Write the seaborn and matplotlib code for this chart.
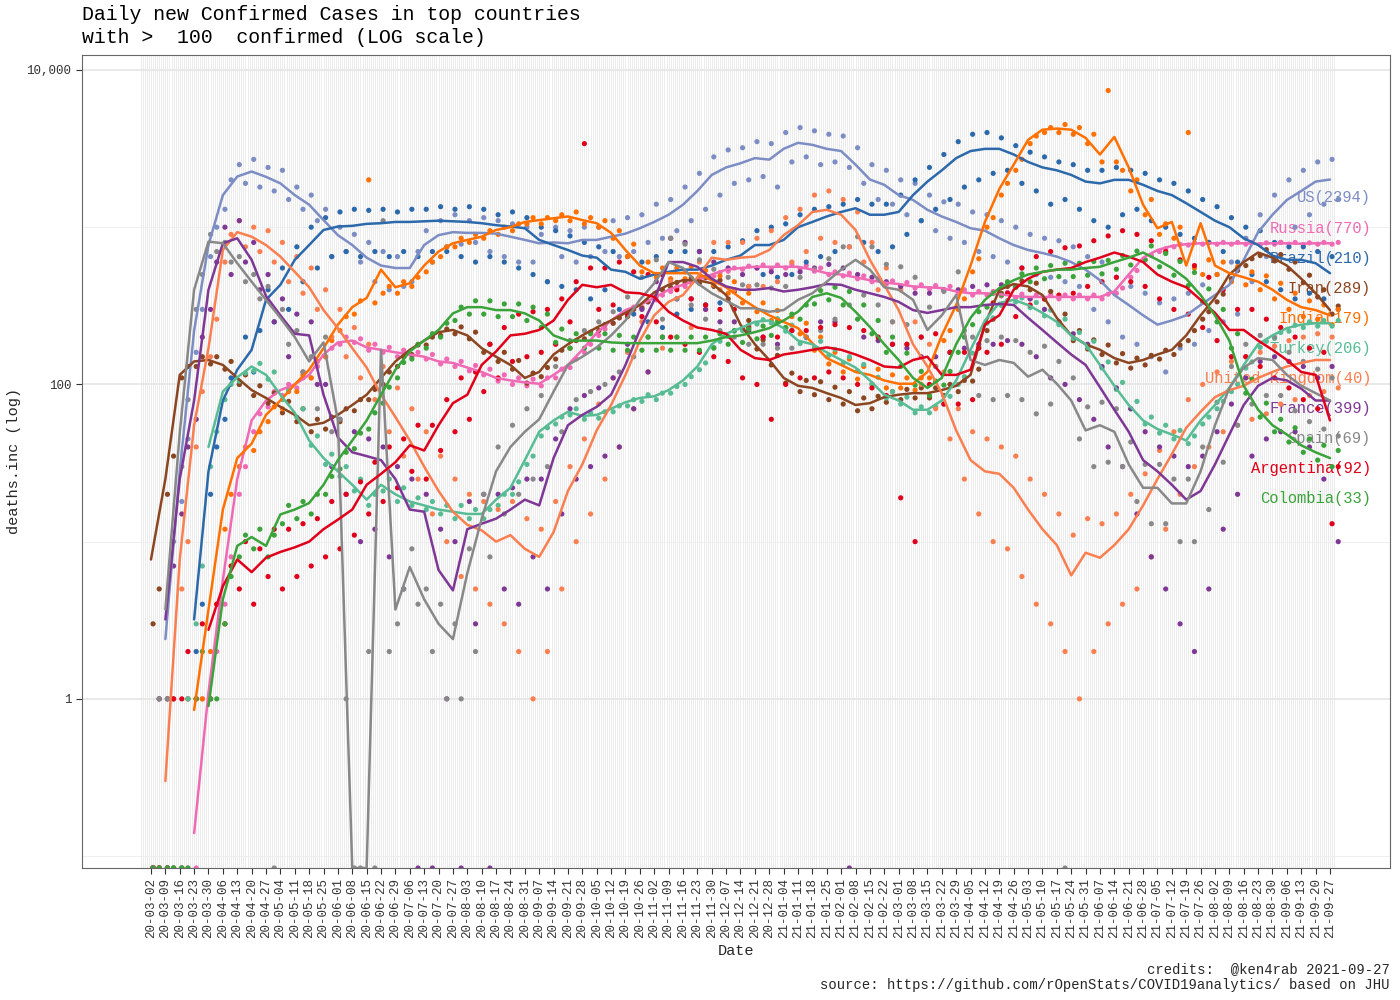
import numpy as np
import pandas as pd
import seaborn as sns
import matplotlib.pyplot as plt
import matplotlib.dates as mdates
import matplotlib.transforms as mtransforms
from matplotlib.ticker import FixedLocator, NullLocator

sns.set_theme(style='white')
plt.rcParams['font.family'] = ['Liberation Mono', 'DejaVu Sans Mono']

N = None

countries = ['US', 'Russia', 'Brazil', 'Iran', 'India', 'Turkey',
             'United Kingdom', 'France', 'Spain', 'Argentina', 'Colombia']
latest = [2394, 770, 210, 289, 179, 206, 40, 399, 69, 92, 33]
colors = ['#7C8DC4', '#F069B4', '#2C69AB', '#8B4520', '#FF7000', '#57BC94',
          '#FA7F50', '#7E3794', '#888888', '#E0001A', '#3AA33A']

# weekly samples of the 7-day mean (one per Monday, 20-03-02 .. 21-09-27)
weeks = pd.date_range('2020-03-02', '2021-09-27', freq='7D')
# two daily reports per week, 1 and 4 days after the Monday
pt_offsets = [1, 4]

us_line = [N, 2.4, 28, 220, 770, 1600, 2100, 2260, 2090, 1900,
           1600, 1390, 1110, 890, 770, 640, 570, 550, 550, 770,
           890, 930, 920, 920, 910, 870, 830, 790, 800, 790,
           830, 830, 870, 910, 985, 1080, 1200, 1390, 1700, 2150,
           2400, 2550, 2750, 2690, 3150, 3440, 3340, 3150, 3050, 2500,
           2010, 1860, 1600, 1490, 1290, 1170, 1080, 985, 950, 850,
           770, 716, 685, 650, 600, 537, 460, 370, 320, 275,
           240, 255, 275, 320, 370, 430, 620, 930, 1200, 1490,
           1700, 1950, 2010]
us_pts = [0, 1, 1, 1, 18, 45, 160, 300, 650, 1000, 1300, 2000, 2500, 1900, 2700, 1800, 2400, 1700, 2300, 1500,
          1800, 1300, 1600, 1100, 1300, 650, 1000, 700, 900, 600, 800, 450, 700, 400, 650, 420, 450, 700, 950, 600,
          1100, 750, 1200, 780, 1100, 800, 1150, 700, 1100, 650, 1050, 600, 1000, 600, 900, 450, 1000, 650, 950, 600,
          1000, 650, 1000, 700, 1100, 650, 1150, 700, 1200, 800, 1400, 850, 1500, 950, 1800, 1100, 2200, 1300, 2800, 1600,
          3100, 1900, 3200, 2000, 3500, 2100, 3400, 1800, 4000, 2600, 4300, 2800, 4100, 2500, 3900, 2600, 3800, 2400, 3200, 1900,
          2500, 1500, 2300, 1400, 2000, 1200, 1900, 1100, 1600, 950, 1450, 850, 1400, 800, 1250, 700, 1200, 650, 1100, 600,
          1000, 550, 900, 500, 850, 480, 820, 450, 750, 420, 650, 300, 600, 250, 480, 200, 420, 180, 380, 150,
          330, 120, 350, 170, 380, 180, 430, 220, 500, 250, 600, 280, 850, 450, 1200, 650, 1600, 800, 2000, 1000,
          2300, 1200, 2600, 1400, 2700, 1500]

ru_line = [N, N, N, 0.14, 1.1, 5.7, 25, 59, 79, 92,
           100, 115, 155, 185, 190, 172, 166, 160, 155, 150,
           140, 137, 128, 120, 110, 106, 103, 101, 115, 133,
           166, 213, 255, 297, 320, 355, 400, 430, 460, 500,
           537, 550, 560, 560, 560, 560, 537, 510, 500, 480,
           460, 445, 435, 420, 415, 410, 390, 380, 380, 375,
           365, 360, 360, 360, 360, 360, 360, 390, 500, 640,
           716, 760, 780, 790, 790, 790, 790, 785, 790, 790,
           785, 790, 790]
ru_pts = [0, 0, 0, 0, 0, 0, 0, 1, 1, 2, 4, 8, 20, 30, 50, 65, 72, 90, 85, 100,
          95, 110, 110, 130, 150, 170, 180, 200, 185, 195, 165, 180, 160, 172, 150, 165, 150, 160, 145, 155,
          135, 145, 130, 140, 122, 132, 115, 125, 105, 115, 100, 110, 98, 108, 98, 110, 110, 125, 128, 145,
          160, 180, 205, 225, 245, 265, 285, 310, 310, 335, 345, 370, 390, 415, 420, 445, 450, 475, 490, 515,
          525, 550, 540, 565, 550, 575, 545, 575, 550, 580, 545, 570, 525, 550, 500, 520, 490, 510, 470, 490,
          450, 470, 435, 455, 425, 445, 410, 430, 405, 425, 400, 420, 380, 400, 370, 390, 370, 390, 365, 385,
          355, 375, 350, 370, 350, 370, 350, 370, 350, 370, 350, 370, 350, 375, 380, 410, 480, 530, 620, 660,
          700, 730, 750, 775, 770, 795, 780, 800, 780, 800, 780, 800, 780, 800, 775, 795, 780, 800, 780, 800,
          775, 795, 780, 800, 780, 800]

br_line = [N, N, N, 3.2, 28, 79, 124, 166, 345, 430,
           620, 770, 960, 1010, 1020, 1050, 1060, 1080, 1080, 1090,
           1100, 1090, 1080, 1060, 1030, 1010, 985, 830, 770, 716,
           660, 640, 537, 520, 470, 500, 520, 537, 537, 570,
           620, 660, 770, 770, 830, 1000, 1080, 1170, 1250, 1320,
           1200, 1200, 1250, 1600, 1950, 2300, 2750, 3050, 3150, 3150,
           2900, 2600, 2400, 2300, 2150, 1950, 1900, 2000, 2000, 1860,
           1700, 1600, 1420, 1250, 1100, 1000, 850, 770, 660, 620,
           620, 590, 510]
br_pts = [0, 0, 0, 0, 0, 1, 2, 4, 20, 40, 60, 110, 100, 200, 120, 220, 400, 250, 550, 300,
          750, 450, 1000, 550, 1150, 650, 1250, 700, 1300, 650, 1280, 700, 1300, 650, 1250, 700, 1300, 650, 1300, 700,
          1350, 700, 1300, 650, 1350, 600, 1300, 650, 1200, 600, 1250, 550, 1150, 500, 1000, 450, 950, 420, 880, 400,
          800, 350, 750, 400, 700, 300, 650, 280, 600, 250, 650, 230, 700, 280, 700, 300, 700, 320, 700, 330,
          750, 400, 820, 420, 950, 500, 1000, 480, 1050, 500, 1200, 600, 1300, 650, 1350, 700, 1400, 750, 1500, 800,
          1400, 700, 1400, 750, 1600, 900, 2000, 1100, 2400, 1300, 2900, 1500, 3500, 1800, 3900, 2000, 4000, 2200, 3700, 2300,
          3300, 1900, 3000, 1700, 2800, 1400, 2600, 1500, 2500, 1300, 2300, 1100, 2300, 1000, 2400, 1200, 2300, 1300, 2200, 1100,
          2000, 1000, 1900, 900, 1700, 850, 1500, 800, 1350, 700, 1150, 600, 1000, 500, 950, 450, 800, 400, 750, 350,
          750, 380, 700, 350, 650, 300]

ir_line = [7.7, 25, 115, 140, 143, 133, 110, 92, 82, 72,
           64, 55, 57, 64, 74, 86, 110, 140, 166, 190,
           215, 222, 205, 170, 150, 133, 110, 120, 155, 180,
           205, 230, 255, 285, 320, 385, 430, 460, 460, 440,
           370, 240, 180, 143, 110, 98, 95, 88, 82, 74,
           76, 83, 86, 88, 88, 92, 98, 115, 240, 400,
           435, 420, 370, 265, 205, 180, 166, 147, 137, 143,
           155, 166, 205, 275, 355, 500, 600, 690, 640, 570,
           470, 380, 297]
ir_pts = [3, 5, 20, 35, 110, 130, 130, 150, 135, 150, 125, 140, 100, 115, 85, 98, 76, 88, 66, 78,
          58, 70, 50, 60, 52, 62, 58, 70, 68, 80, 80, 93, 100, 120, 130, 150, 155, 178, 178, 200,
          205, 225, 210, 232, 195, 215, 160, 180, 140, 160, 125, 142, 102, 118, 112, 128, 145, 165, 170, 190,
          195, 215, 220, 240, 245, 265, 270, 300, 305, 335, 365, 400, 415, 445, 445, 475, 440, 480, 420, 460,
          350, 390, 225, 255, 168, 192, 133, 153, 102, 118, 90, 106, 86, 104, 80, 96, 75, 90, 68, 82,
          70, 84, 77, 90, 80, 93, 82, 95, 82, 95, 85, 100, 90, 106, 105, 125, 220, 260, 380, 420,
          415, 455, 400, 440, 350, 390, 250, 280, 190, 220, 168, 192, 155, 178, 137, 157, 127, 147, 133, 153,
          145, 165, 155, 178, 190, 220, 260, 290, 335, 375, 470, 530, 570, 630, 660, 720, 610, 670, 540, 600,
          445, 495, 360, 400, 280, 315]

in_line = [N, N, N, 0.85, 3.7, 16, 34, 42, 64, 79,
           100, 124, 170, 240, 310, 355, 537, 415, 440, 570,
           700, 790, 830, 870, 960, 1000, 1080, 1110, 1140, 1170,
           1110, 1060, 920, 716, 570, 510, 510, 510, 510, 460,
           415, 355, 310, 275, 250, 228, 183, 147, 133, 120,
           115, 106, 101, 101, 120, 205, 320, 570, 1080, 1750,
           2500, 3590, 4170, 4240, 4170, 3700, 2900, 3750, 2400, 1390,
           985, 1080, 570, 1060, 570, 510, 480, 450, 400, 345,
           310, 297, 275]
in_pts = [0, 0, 0, 0, 0, 1, 1, 1, 2, 4, 12, 20, 30, 40, 38, 50, 58, 72, 70, 90,
          90, 115, 110, 140, 150, 190, 220, 270, 280, 340, 2000, 330, 380, 420, 380, 450, 420, 480, 520, 600,
          650, 750, 750, 850, 800, 900, 850, 950, 900, 1000, 950, 1050, 1050, 1150, 1050, 1150, 1100, 1200, 1100, 1250,
          1050, 1150, 1000, 1100, 850, 950, 650, 780, 520, 600, 480, 550, 470, 550, 470, 560, 480, 530, 430, 490,
          380, 450, 330, 380, 290, 330, 255, 295, 230, 270, 210, 245, 165, 200, 135, 160, 120, 145, 108, 130,
          100, 125, 95, 115, 95, 110, 92, 110, 110, 130, 190, 220, 300, 350, 520, 630, 1000, 1150, 1600, 1900,
          2300, 2700, 3400, 3800, 4000, 4300, 4000, 4500, 3900, 4300, 3400, 3900, 2600, 7400, 2600, 2300, 1700, 2000, 1200, 1500,
          900, 1050, 850, 1000, 4000, 550, 500, 620, 500, 600, 450, 560, 430, 520, 400, 490, 350, 440, 300, 380,
          270, 340, 260, 320, 240, 300]

tr_line = [N, N, N, N, 40, 90, 111, 130, 115, 86,
           66, 44, 34, 28, 23, 18.5, 23, 20, 18, 17,
           16, 15.5, 15, 15, 18.5, 22, 33, 50, 59, 67,
           63, 64, 70, 77, 82, 84, 92, 106, 130, 180,
           210, 228, 250, 255, 228, 190, 180, 160, 143, 128,
           106, 86, 79, 69, 69, 79, 106, 166, 255, 330,
           345, 320, 285, 250, 205, 180, 133, 98, 74, 59,
           52, 48, 44, 59, 74, 95, 133, 180, 205, 228,
           240, 245, 245]
tr_pts = [0, 0, 0, 0, 0, 1, 3, 7, 30, 50, 80, 100, 105, 118, 122, 136, 108, 120, 80, 92,
          62, 70, 41, 47, 31, 36, 26, 30, 21, 25, 17, 20, 21, 25, 18, 22, 17, 19, 16, 18,
          15, 17, 14, 17, 14, 16, 14, 16, 17, 20, 20, 24, 31, 35, 47, 53, 56, 62, 64, 70,
          60, 66, 61, 67, 67, 73, 73, 80, 78, 86, 80, 88, 88, 97, 100, 112, 124, 137, 172, 188,
          202, 218, 220, 236, 242, 258, 246, 262, 218, 238, 182, 198, 172, 188, 153, 167, 137, 150, 122, 134,
          101, 111, 82, 90, 75, 83, 66, 72, 66, 72, 75, 84, 100, 112, 158, 174, 245, 265, 318, 342,
          335, 355, 308, 332, 273, 297, 240, 260, 196, 214, 172, 188, 127, 139, 93, 103, 70, 78, 56, 62,
          49, 55, 45, 51, 42, 47, 56, 62, 70, 78, 90, 100, 127, 139, 172, 188, 196, 214, 218, 238,
          230, 250, 235, 255, 235, 255]

uk_line = [N, 0.3, 7.7, 55, 170, 716, 930, 870, 770, 650,
           520, 415, 297, 228, 170, 128, 86, 62, 44, 30,
           21, 15.5, 12.8, 11.8, 10, 11, 9, 8, 11.5, 21,
           31, 51, 74, 115, 190, 275, 335, 370, 480, 640,
           620, 640, 650, 716, 890, 1030, 1250, 1290, 1200, 960,
           620, 430, 297, 180, 130, 88, 51, 33, 28, 27,
           22, 16, 12, 9.5, 6.1, 8.5, 7.9, 9.5, 12, 17,
           25, 36, 53, 67, 83, 92, 98, 110, 120, 130,
           137, 143, 143]
uk_pts = [0, 1, 1, 1, 5, 10, 40, 90, 150, 260, 600, 900, 1100, 750, 1000, 700, 950, 600, 800, 450,
          650, 380, 550, 300, 400, 200, 300, 150, 230, 110, 180, 80, 130, 50, 95, 35, 70, 25, 50, 15,
          35, 10, 25, 6, 20, 5, 18, 4, 16, 3, 18, 2, 14, 1, 12, 2, 18, 5, 30, 10,
          45, 15, 75, 25, 110, 40, 160, 70, 250, 120, 380, 170, 450, 200, 520, 230, 600, 300, 800, 400,
          800, 400, 800, 420, 850, 420, 950, 450, 1150, 600, 1300, 700, 1600, 850, 1700, 800, 1500, 750, 1250, 600,
          800, 400, 550, 250, 400, 180, 250, 100, 180, 70, 120, 45, 70, 25, 50, 15, 45, 10, 40, 9,
          35, 6, 25, 4, 20, 3, 15, 2, 11, 1, 14, 2, 13, 3, 15, 4, 20, 5, 27, 8,
          38, 12, 50, 20, 80, 30, 100, 40, 120, 50, 140, 55, 150, 60, 160, 65, 175, 75, 190, 80,
          200, 85, 210, 90, 200, 95]

fr_line = [N, 3.2, 25, 79, 400, 790, 850, 620, 365, 275,
           210, 205, 86, 46, 37, 35, 33, 25, 16, 15.5,
           6.6, 4.9, 12, 13, 14, 16, 18.5, 17, 34, 55,
           64, 72, 86, 133, 222, 345, 600, 600, 560, 470,
           420, 400, 400, 410, 390, 400, 415, 435, 430, 400,
           380, 360, 335, 297, 285, 297, 310, 310, 320, 325,
           320, 265, 222, 185, 155, 133, 96, 69, 50, 33,
           28, 23, 18.5, 21, 31, 48, 74, 98, 110, 106,
           94, 79, 79]
fr_pts = [0, 1, 1, 7, 15, 40, 60, 200, 300, 600, 1000, 500, 1100, 600, 800, 400, 500, 250, 350, 150,
          280, 120, 250, 100, 100, 30, 60, 20, 50, 10, 45, 12, 40, 8, 30, 5, 25, 0, 20, 0,
          12, 1, 10, 0, 18, 3, 20, 0, 20, 5, 22, 4, 25, 8, 25, 5, 45, 15, 70, 25,
          85, 30, 95, 35, 110, 40, 180, 70, 300, 120, 450, 200, 850, 350, 800, 350, 700, 300, 600, 250,
          550, 250, 500, 220, 550, 200, 520, 180, 500, 220, 520, 200, 550, 250, 580, 250, 550, 0, 500, 200,
          480, 190, 450, 180, 420, 170, 380, 150, 380, 150, 400, 160, 400, 170, 420, 180, 430, 180, 430, 190,
          420, 180, 350, 150, 300, 110, 250, 100, 210, 80, 180, 60, 130, 40, 95, 30, 70, 15, 50, 8,
          40, 5, 35, 3, 30, 2, 35, 5, 50, 12, 75, 20, 110, 35, 140, 45, 150, 50, 140, 50,
          130, 40, 110, 25, 130, 10]

es_line = [N, 3.7, 49, 400, 810, 790, 590, 450, 345, 265,
           200, 140, 185, 59, 0, 0, 166, 3.7, 6.9, 4.3,
           3, 2.4, 6.3, 14, 28, 40, 50, 60, 90, 133,
           150, 172, 205, 255, 345, 440, 600, 550, 440, 380,
           340, 305, 305, 290, 297, 345, 380, 450, 537, 620,
           537, 415, 400, 345, 222, 275, 370, 143, 133, 143,
           137, 112, 124, 101, 79, 51, 55, 50, 31, 22,
           22, 17.5, 17.5, 28, 55, 95, 128, 147, 143, 115,
           98, 88, 79]
es_pts = [0, 1, 1, 10, 30, 80, 300, 500, 900, 700, 800, 600, 650, 450, 500, 350, 420, 0, 300, 180,
          220, 120, 150, 70, 200, 50, 60, 1, 0, 0, 2, 0, 1100, 2, 3, 5, 9, 4, 5, 2,
          4, 1, 3, 1, 9, 2, 20, 8, 40, 15, 55, 20, 70, 25, 85, 30, 130, 50, 190, 80,
          220, 90, 250, 100, 290, 120, 360, 150, 480, 200, 620, 260, 850, 350, 780, 320, 620, 260, 540, 220,
          480, 200, 430, 180, 430, 180, 410, 170, 420, 170, 480, 200, 540, 220, 630, 260, 750, 320, 870, 370,
          750, 320, 580, 250, 560, 240, 480, 200, 310, 130, 390, 160, 520, 220, 200, 85, 190, 80, 200, 85,
          190, 80, 160, 65, 175, 75, 140, 0, 110, 45, 72, 30, 77, 32, 70, 30, 43, 18, 31, 13,
          31, 13, 25, 10, 25, 10, 40, 16, 77, 32, 130, 55, 180, 75, 205, 85, 200, 85, 160, 68,
          140, 58, 125, 52, 110, 47]

ar_line = [N, N, N, N, 2.75, 5.2, 7.7, 6.4, 7.9, 8.6,
           9.2, 10, 12, 13.8, 16, 23, 27, 32, 41, 38,
           55, 76, 86, 133, 162, 205, 210, 222, 255, 345,
           430, 415, 430, 385, 380, 360, 290, 255, 230, 222,
           210, 166, 147, 143, 155, 160, 166, 172, 166, 155,
           143, 130, 128, 143, 150, 115, 115, 124, 240, 275,
           400, 470, 520, 537, 550, 600, 640, 690, 650, 600,
           500, 450, 415, 345, 285, 222, 222, 190, 166, 143,
           120, 115, 59]
ar_pts = [0, 0, 0, 1, 1, 2, 1, 3, 1, 4, 3, 7, 5, 10, 4, 9, 6, 12, 5, 12,
          6, 13, 7, 14, 8, 18, 9, 20, 11, 24, 15, 32, 18, 40, 22, 45, 28, 55, 25, 55,
          38, 80, 50, 110, 60, 120, 90, 180, 110, 230, 140, 280, 150, 290, 160, 300, 180, 350, 250, 450,
          3400, 550, 300, 550, 320, 600, 280, 520, 270, 500, 250, 500, 200, 400, 180, 350, 160, 320, 150, 300,
          140, 300, 110, 230, 100, 200, 60, 200, 100, 220, 110, 220, 110, 230, 120, 240, 110, 230, 100, 220,
          95, 200, 85, 180, 19, 180, 10, 200, 100, 210, 75, 160, 75, 160, 80, 170, 160, 330, 180, 380,
          270, 550, 320, 650, 350, 700, 370, 740, 380, 760, 420, 820, 450, 880, 480, 950, 450, 900, 420, 820,
          350, 700, 300, 620, 280, 570, 230, 480, 190, 400, 150, 300, 150, 300, 130, 260, 110, 230, 95, 200,
          80, 170, 70, 160, 13, 30]

co_line = [N, N, N, N, 0.9, 4.3, 9.4, 10.7, 9.4, 14.9,
           16, 17.6, 23, 33, 44, 59, 86, 124, 162, 190,
           222, 283, 310, 310, 297, 297, 283, 255, 205, 190,
           190, 190, 185, 183, 183, 183, 183, 183, 183, 190,
           200, 205, 215, 228, 255, 290, 360, 380, 355, 290,
           232, 180, 143, 110, 95, 110, 180, 265, 345, 410,
           460, 500, 520, 537, 537, 550, 560, 600, 640, 690,
           620, 550, 470, 370, 275, 190, 98, 69, 55, 48,
           41, 37, 34]
co_pts = [0, 0, 0, 0, 0, 0, 1, 2, 1, 1, 3, 6, 8, 11, 9, 12, 8, 11, 13, 17,
          14, 18, 15, 20, 20, 26, 29, 37, 39, 49, 52, 66, 76, 96, 110, 138, 145, 180, 170, 210,
          200, 245, 255, 310, 280, 340, 280, 340, 270, 325, 270, 325, 255, 310, 230, 280, 185, 225, 170, 210,
          170, 210, 170, 210, 165, 205, 165, 200, 165, 200, 165, 200, 165, 200, 165, 200, 165, 200, 170, 210,
          180, 220, 185, 225, 195, 235, 205, 250, 230, 280, 260, 320, 325, 395, 345, 415, 320, 390, 260, 320,
          210, 255, 160, 200, 130, 158, 99, 121, 85, 105, 99, 121, 160, 200, 240, 290, 310, 380, 370, 450,
          415, 505, 450, 550, 470, 570, 485, 590, 485, 590, 495, 605, 505, 615, 540, 660, 575, 705, 620, 760,
          560, 680, 495, 605, 425, 515, 335, 405, 250, 300, 170, 210, 88, 108, 62, 76, 50, 60, 43, 53,
          37, 45, 33, 41, 30, 38]

line_vals = [us_line, ru_line, br_line, ir_line, in_line, tr_line,
             uk_line, fr_line, es_line, ar_line, co_line]
pt_vals = [us_pts, ru_pts, br_pts, ir_pts, in_pts, tr_pts,
           uk_pts, fr_pts, es_pts, ar_pts, co_pts]
for c, l, p in zip(countries, line_vals, pt_vals):
    assert len(l) == len(weeks) and len(p) == 2 * len(weeks), c

floor, top = 0.084, 12450

lines = pd.concat([pd.DataFrame({'date': weeks, 'deaths': v, 'country': c})
                   for c, v in zip(countries, line_vals)])
pt_dates = weeks.repeat(2) + pd.to_timedelta(np.tile(pt_offsets, len(weeks)), unit='D')
pts = pd.concat([pd.DataFrame({'date': pt_dates, 'deaths': v, 'country': c})
                 for c, v in zip(countries, pt_vals)])
for df in (lines, pts):
    df['deaths'] = df['deaths'].astype(float)
    # zero days are -Inf on a log axis: put them on the panel edge like ggplot
    df['y'] = df['deaths'].clip(lower=floor)
lines = lines.dropna()
pts = pts.dropna()
palette = dict(zip(countries, colors))

fig = plt.figure(figsize=(14, 10), dpi=100)
ax = fig.add_axes([82 / 1400, 1 - 868 / 1000, (1390 - 82) / 1400, (868 - 55) / 1000])
ax.set_yscale('log')

# one faint vertical grid line per day of data, log grid across
days = pd.date_range('2020-02-26', '2021-09-29')
ax.vlines(days, floor, top, colors='#e9e9e9', lw=0.6, zorder=0)
for v in [1, 100, 10000]:
    ax.axhline(v, color='#e3e3e3', lw=1.1, zorder=0.5)
for v in [0.1, 10, 1000]:
    ax.axhline(v, color='#ededed', lw=0.6, zorder=0.5)

sns.scatterplot(data=pts, x='date', y='y', hue='country', hue_order=countries,
                palette=palette, s=14, linewidth=0, legend=False, ax=ax, zorder=2)
sns.lineplot(data=lines, x='date', y='y', hue='country', hue_order=countries,
             palette=palette, lw=1.8, legend=False, ax=ax, zorder=3, estimator=None)

ax.set_xlim(pd.Timestamp('2020-01-28 10:00'), pd.Timestamp('2021-10-26 05:00'))
ax.set_ylim(floor, top)

ax.set_xticks(weeks)
ax.xaxis.set_major_formatter(mdates.DateFormatter('%y-%m-%d'))
ax.yaxis.set_major_locator(FixedLocator([1, 100, 10000]))
ax.yaxis.set_minor_locator(NullLocator())
ax.set_yticklabels(['1', '100', '10,000'])
ax.tick_params(axis='x', rotation=90, labelsize=9, labelcolor='#333333',
               length=4, color='#333333', width=0.8, bottom=True)
ax.tick_params(axis='y', labelsize=9, labelcolor='#333333',
               length=4, color='#333333', width=0.8, left=True)
ax.set_xlabel('')
ax.set_ylabel('')
for s in ax.spines.values():
    s.set_color('#666666')
    s.set_linewidth(0.8)

# stacked end labels
trans = mtransforms.blended_transform_factory(ax.transAxes, ax.transData)
for i, (c, n, col) in enumerate(zip(countries, latest, colors)):
    ax.text(0.9855, 10 ** (3.186 - 0.1914 * i), f'{c}({n})', color=col,
            ha='right', va='center', fontsize=11.2, transform=trans, zorder=1.5)

fig.text(82 / 1400, 0.995,
         'Daily new Confirmed Cases in top countries\nwith >  100  confirmed (LOG scale)',
         ha='left', va='top', fontsize=14.3, linespacing=1.28, color='black')
fig.text(736 / 1400, 1 - 951 / 1000, 'Date', ha='center', va='center', fontsize=11)
fig.text(14 / 1400, 1 - 461 / 1000, 'deaths.inc (log)', rotation=90,
         ha='center', va='center', fontsize=11)
fig.text(1390 / 1400, 1 - 992 / 1000,
         'credits:  @ken4rab 2021-09-27\nsource: https://github.com/rOpenStats/COVID19analytics/ based on JHU',
         ha='right', va='bottom', fontsize=10, multialignment='right', linespacing=1.15)

fig.savefig('out.png', dpi=100)
